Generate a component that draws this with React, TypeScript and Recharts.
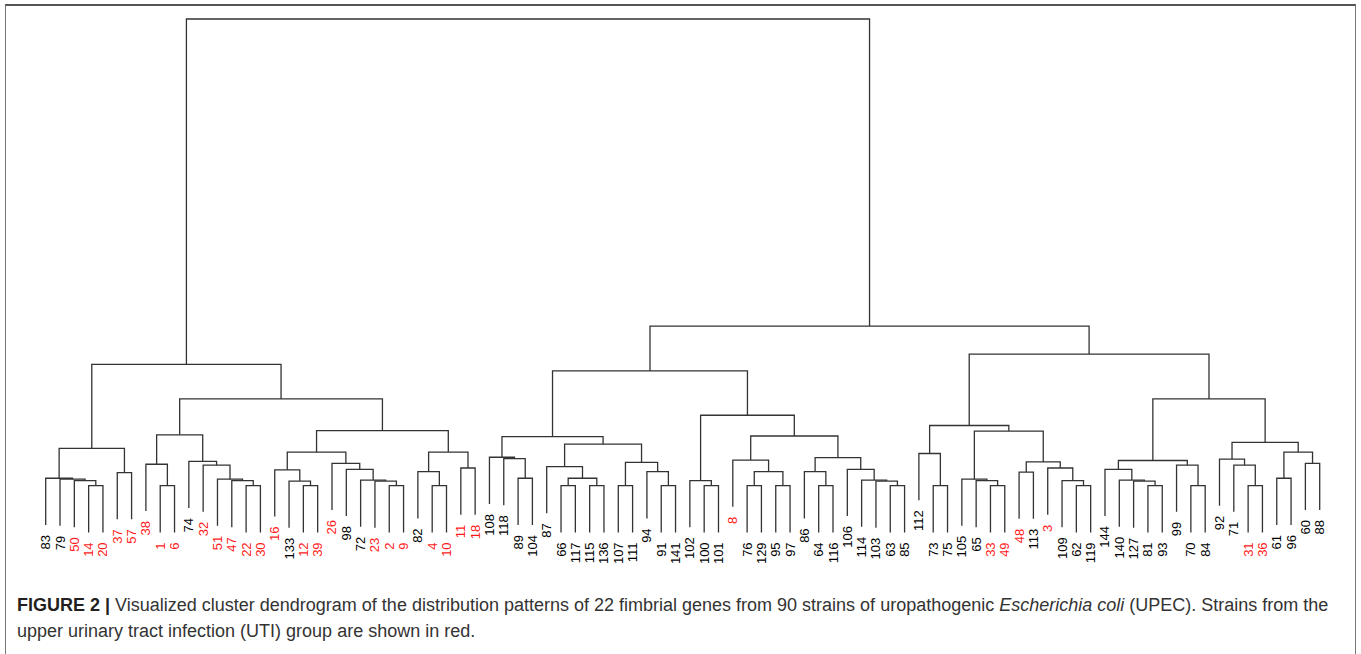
import React from "react";
import { ComposedChart, Line, Scatter, XAxis, YAxis } from "recharts";

// leaf order as drawn, left to right
const leaves = [
  "83", "79", "50", "14", "20", "37", "57", "38", "1", "6", "74", "32", "51", "47", "22", "30",
  "16", "133", "12", "39", "26", "98", "72", "23", "2", "9", "82", "4", "10", "11", "18",
  "108", "118", "89", "104", "87", "66", "117", "115", "136", "107", "111", "94", "91", "141",
  "102", "100", "101", "8", "76", "129", "95", "97", "86", "64", "116", "106", "114", "103", "63", "85",
  "112", "73", "75", "105", "65", "33", "49", "48", "113", "3", "109", "62", "119",
  "144", "140", "127", "81", "93", "99", "70", "84", "92", "71", "31", "36", "61", "96", "60", "88",
];

// upper UTI group strains
const redLeaves = [
  "50", "14", "20", "37", "57", "38", "1", "6", "32", "51", "47", "22", "30", "16", "12", "39",
  "26", "23", "2", "9", "4", "10", "11", "18", "8", "33", "49", "48", "3", "31", "36",
];

// merge i creates node "m{i+1}": [left, right, height]
const merges: [string, string, number][] = [
  ["14", "20", 0], ["50", "m1", 0.11], ["79", "m2", 0.14], ["83", "m3", 0.16],
  ["37", "57", 0.28], ["m4", "m5", 0.8],
  ["1", "6", 0], ["38", "m7", 0.46],
  ["22", "30", 0], ["47", "m9", 0.11], ["51", "m10", 0.14], ["32", "m11", 0.44], ["74", "m12", 0.52],
  ["m8", "m13", 1.09],
  ["12", "39", 0], ["133", "m15", 0.1], ["16", "m16", 0.34],
  ["2", "9", 0], ["23", "m18", 0.1], ["72", "m19", 0.12], ["98", "m20", 0.35], ["26", "m21", 0.48],
  ["m17", "m22", 0.72],
  ["4", "10", 0], ["82", "m24", 0.3], ["11", "18", 0.38], ["m25", "m26", 0.72],
  ["m23", "m27", 1.18], ["m14", "m28", 1.86], ["m6", "m29", 2.6],
  ["89", "104", 0.16], ["118", "m31", 0.58], ["108", "m32", 0.61],
  ["66", "117", 0], ["115", "136", 0], ["m34", "m35", 0.16], ["87", "m36", 0.41],
  ["107", "111", 0], ["91", "141", 0], ["94", "m39", 0.3], ["m38", "m40", 0.5],
  ["m37", "m41", 0.89], ["m33", "m42", 1.05],
  ["100", "101", 0], ["102", "m44", 0.11],
  ["76", "129", 0], ["95", "97", 0], ["m46", "m47", 0.3], ["8", "m48", 0.55],
  ["64", "116", 0], ["86", "m50", 0.3],
  ["63", "85", 0], ["103", "m52", 0.1], ["114", "m53", 0.12], ["106", "m54", 0.35],
  ["m51", "m55", 0.6], ["m49", "m56", 1.065], ["m45", "m57", 1.51], ["m43", "m58", 2.46],
  ["73", "75", 0], ["112", "m60", 0.69],
  ["33", "49", 0], ["65", "m62", 0.11], ["105", "m63", 0.14],
  ["48", "113", 0.29], ["62", "119", 0], ["109", "m66", 0.11], ["3", "m67", 0.38], ["m65", "m68", 0.51],
  ["m64", "m69", 1.17], ["m61", "m70", 1.29],
  ["81", "93", 0], ["127", "m72", 0.1], ["140", "m73", 0.12], ["144", "m74", 0.35],
  ["70", "84", 0], ["99", "m76", 0.44], ["m75", "m77", 0.54],
  ["31", "36", 0], ["71", "m79", 0.44], ["92", "m80", 0.57],
  ["61", "96", 0.16], ["60", "88", 0.48], ["m82", "m83", 0.72], ["m81", "m84", 0.93],
  ["m78", "m85", 1.86], ["m71", "m86", 2.82], ["m59", "m87", 3.42], ["m30", "m88", 10],
];

const HANG = 1; // leaves hang 0.1 of the root height

const LINE = "#333";
const RED = "#ff1a1a";
const FONT = "'Liberation Sans', Arial, sans-serif";

type Pt = { x: number; y: number };
type Tip = Pt & { label: string; red: boolean };

function buildTree() {
  const pos: Record<string, { x: number; h: number; leaf: boolean }> = {};
  leaves.forEach((l, i) => { pos[l] = { x: i, h: 0, leaf: true }; });
  const segs: Pt[][] = [];
  const tips: Tip[] = [];
  merges.forEach(([a, b, h], i) => {
    const pa = pos[a], pb = pos[b];
    const ya = pa.leaf ? h - HANG : pa.h;
    const yb = pb.leaf ? h - HANG : pb.h;
    if (pa.leaf) tips.push({ x: pa.x, y: ya, label: a, red: redLeaves.includes(a) });
    if (pb.leaf) tips.push({ x: pb.x, y: yb, label: b, red: redLeaves.includes(b) });
    segs.push([
      { x: pa.x, y: ya }, { x: pa.x, y: h },
      { x: pb.x, y: h }, { x: pb.x, y: yb },
    ]);
    pos["m" + (i + 1)] = { x: (pa.x + pb.x) / 2, h, leaf: false };
  });
  return { segs, tips };
}

const { segs, tips } = buildTree();

function LeafLabel(props: any) {
  const { cx, cy, payload } = props;
  const y = cy + 10;
  return (
    <text
      x={cx}
      y={y}
      transform={`rotate(-90, ${cx}, ${y})`}
      textAnchor="end"
      dominantBaseline="central"
      fontFamily={FONT}
      fontSize={13}
      fill={payload.red ? RED : "#000"}
    >
      {payload.label}
    </text>
  );
}

export default function App() {
  return (
    <div style={{ position: "absolute", left: 0, top: 0, width: 1361, height: 654, background: "#fff", overflow: "hidden" }}>
      <div style={{
        position: "absolute", left: 5, top: 4, width: 1349, height: 700,
        borderTop: "2px solid #555", borderLeft: "1px solid #777", borderRight: "1px solid #777",
      }} />
      <div style={{ position: "absolute", left: 0, top: 0 }}>
        <ComposedChart
          width={1361}
          height={610}
          margin={{ top: 19, right: 41.3, left: 45.7, bottom: 7.6 }}
        >
          <XAxis type="number" dataKey="x" domain={[0, 89]} hide />
          <YAxis type="number" dataKey="y" domain={[-2.5, 10]} hide />
          {segs.map((s, i) => (
            <Line
              key={i}
              data={s}
              dataKey="y"
              type="linear"
              stroke={LINE}
              strokeWidth={1.3}
              dot={false}
              activeDot={false}
              isAnimationActive={false}
            />
          ))}
          <Scatter data={tips} dataKey="y" shape={<LeafLabel />} isAnimationActive={false} />
        </ComposedChart>
      </div>
      <div style={{
        position: "absolute", left: 17, top: 592, fontFamily: FONT, fontSize: 18,
        lineHeight: "26px", color: "#333", whiteSpace: "nowrap",
      }}>
        <div>
          <b style={{ color: "#231f20" }}>FIGURE 2 |</b> Visualized cluster dendrogram of the distribution patterns of 22 fimbrial genes from 90 strains of uropathogenic <i>Escherichia coli</i> (UPEC). Strains from the
        </div>
        <div>upper urinary tract infection (UTI) group are shown in red.</div>
      </div>
    </div>
  );
}
